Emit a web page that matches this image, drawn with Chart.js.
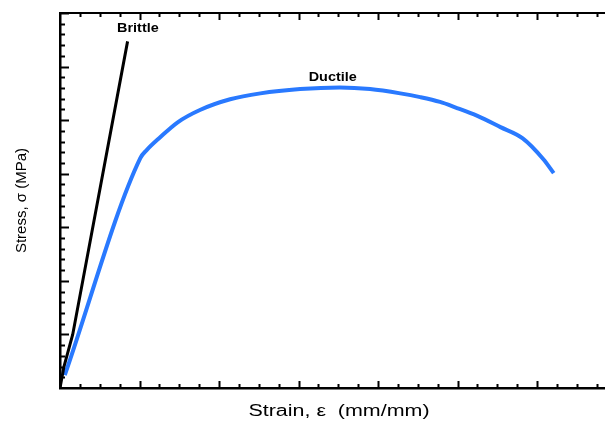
<!DOCTYPE html>
<html>
<head>
<meta charset="utf-8">
<script src="https://cdn.jsdelivr.net/npm/chart.js@4/dist/chart.umd.min.js"></script>
<style>
  html, body { margin: 0; padding: 0; background: #fff; }
  #wrap { width: 605px; height: 422px; }
</style>
</head>
<body>
<div id="wrap"><canvas id="stressStrainChart"></canvas></div>
<script>
// Strain (x) and stress (y) readings, in major-tick units
const brittleStrain = [0, 0.05, 0.16, 0.85];
const brittleStress = [0, 0.4, 1.0, 6.47];

const ductileStrain = [0.06, 1.01, 1.09, 1.26, 1.48, 1.76, 2.14, 2.52, 3.02, 3.52, 3.90, 4.28, 4.53, 4.78, 4.97, 5.25, 5.54, 5.82, 6.08, 6.21];
const ductileStress = [0.24, 4.29, 4.44, 4.68, 4.96, 5.19, 5.39, 5.50, 5.58, 5.61, 5.58, 5.50, 5.43, 5.34, 5.24, 5.08, 4.87, 4.66, 4.27, 4.01];

// Curve labels, placed at data coordinates
const labelNames = ['Brittle', 'Ductile'];
const labelX = [0.98, 3.43];
const labelY = [6.70, 5.80];

const xTitle = 'Strain, \u03b5  (mm/mm)';

const toPoints = (xs, ys) => xs.map((x, i) => ({ x: x, y: ys[i] }));

// Inward tick marks on left, bottom and top edges, top frame line, labels
const frameTicks = {
  id: 'frameTicks',
  afterDraw(chart) {
    const ctx = chart.ctx;
    const xs = chart.scales.x, ys = chart.scales.y;
    const area = chart.chartArea;
    ctx.save();
    ctx.strokeStyle = '#000';
    ctx.lineWidth = 2;
    // top frame
    ctx.beginPath();
    ctx.moveTo(area.left, area.top);
    ctx.lineTo(area.right, area.top);
    ctx.stroke();
    // x ticks (bottom and top)
    for (let i = 1; i * 0.25 <= xs.max; i++) {
      const px = Math.round(xs.getPixelForValue(i * 0.25)) + 0.5;
      const len = i % 4 === 0 ? 7 : 4;
      ctx.beginPath();
      ctx.moveTo(px, area.bottom);
      ctx.lineTo(px, area.bottom - len);
      ctx.moveTo(px, area.top);
      ctx.lineTo(px, area.top + len);
      ctx.stroke();
    }
    // y ticks (left)
    for (let i = 1; i * 0.2 <= ys.max + 1e-9; i++) {
      const py = Math.round(ys.getPixelForValue(i * 0.2)) + 0.5;
      const len = i % 5 === 0 ? 9 : 5;
      ctx.beginPath();
      ctx.moveTo(area.left, py);
      ctx.lineTo(area.left + len, py);
      ctx.stroke();
    }
    ctx.fillStyle = '#000';
    ctx.textAlign = 'center';
    ctx.textBaseline = 'middle';
    // curve labels (slightly widened like the source)
    ctx.font = 'bold 12px "Liberation Sans", Arial, sans-serif';
    labelNames.forEach((name, i) => {
      ctx.save();
      ctx.translate(xs.getPixelForValue(labelX[i]), ys.getPixelForValue(labelY[i]));
      ctx.scale(1.2, 1);
      ctx.fillText(name, 0, 0);
      ctx.restore();
    });
    // x axis title
    ctx.font = '16px "Liberation Sans", Arial, sans-serif';
    ctx.translate(339, 412);
    ctx.scale(1.34, 1);
    ctx.fillText(xTitle, 0, 0);
    ctx.restore();
  }
};

const config = {
  type: 'scatter',
  data: {
    datasets: [
      {
        label: 'Brittle',
        data: toPoints(brittleStrain, brittleStress),
        showLine: true,
        borderColor: '#000',
        borderWidth: 3,
        pointRadius: 0,
        tension: 0
      },
      {
        label: 'Ductile',
        data: toPoints(ductileStrain, ductileStress),
        showLine: true,
        borderColor: '#2979ff',
        borderWidth: 4,
        pointRadius: 0,
        cubicInterpolationMode: 'monotone'
      }
    ]
  },
  options: {
    responsive: true,
    maintainAspectRatio: false,
    animation: false,
    layout: { padding: { left: 0, top: 13, right: 0, bottom: 34 } },
    plugins: {
      legend: { display: false },
      tooltip: { enabled: false }
    },
    scales: {
      x: {
        type: 'linear',
        min: 0,
        max: 6.855,
        grid: { display: false, drawTicks: false },
        border: { display: true, color: '#000', width: 2.5 },
        ticks: { display: false }
      },
      y: {
        type: 'linear',
        min: 0,
        max: 7,
        grid: { display: false, drawTicks: false },
        border: { display: true, color: '#000', width: 2.5 },
        ticks: { display: false },
        title: {
          display: true,
          text: 'Stress, \u03c3 (MPa)',
          color: '#000',
          font: { family: '"Liberation Sans", Arial, sans-serif', size: 15 },
          padding: { top: 13, bottom: 29 }
        }
      }
    }
  },
  plugins: [frameTicks]
};

const myChart = new Chart(document.getElementById('stressStrainChart'), config);
</script>
</body>
</html>
